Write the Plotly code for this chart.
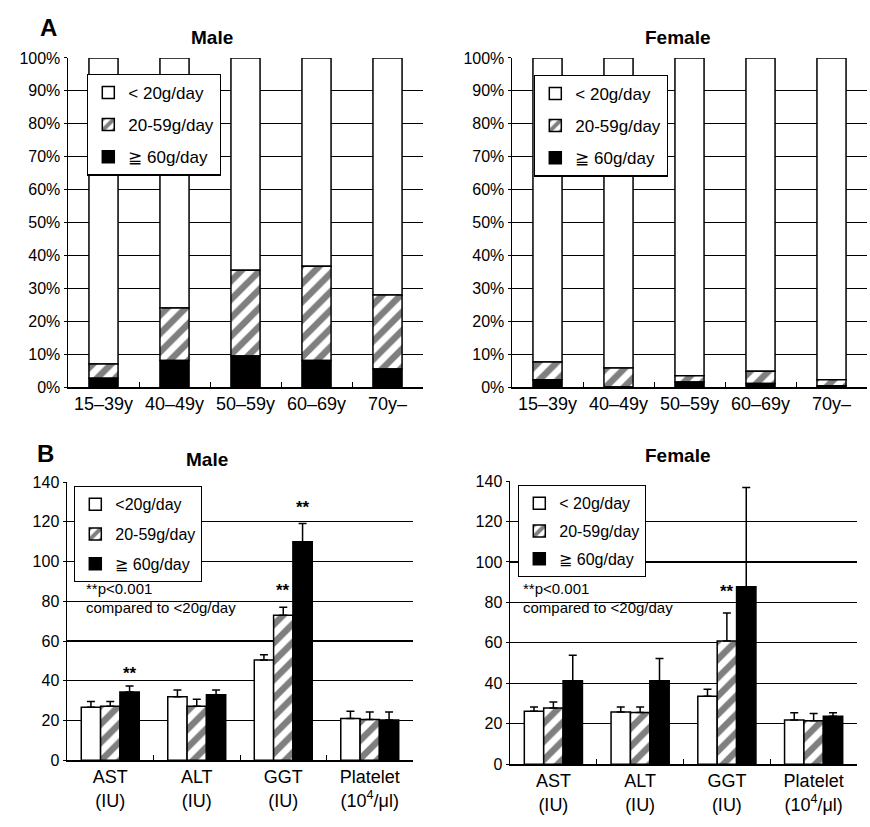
import plotly.graph_objects as go

# ---------------- Data ----------------
age_groups = ["15–39y", "40–49y", "50–59y", "60–69y", "70y–"]
male_ge60 = [2.7, 8.1, 9.4, 8.1, 5.5]
male_20_59 = [4.3, 15.9, 26.1, 28.6, 22.5]
female_ge60 = [2.2, 0.0, 1.5, 1.1, 0.4]
female_20_59 = [5.4, 5.8, 1.9, 3.7, 1.8]

tests = ["AST<br>(IU)", "ALT<br>(IU)", "GGT<br>(IU)", "Platelet<br>(10<sup>4</sup>/μl)"]
male_lt20 = [26.6, 31.9, 50.4, 21.0]
male_lt20_err = [3.0, 3.4, 2.7, 3.6]
male_mid = [27.1, 27.1, 73.0, 20.5]
male_mid_err = [2.5, 3.6, 4.0, 3.8]
male_hi = [34.3, 32.9, 110.0, 20.2]
male_hi_err = [3.0, 2.4, 9.1, 4.1]

female_lt20 = [26.2, 25.8, 33.6, 21.8]
female_lt20_err = [2.1, 2.5, 3.4, 3.6]
female_mid = [27.8, 25.5, 60.9, 21.5]
female_mid_err = [2.9, 2.8, 13.9, 3.5]
female_hi = [41.2, 41.2, 87.7, 23.7]
female_hi_err = [12.6, 11.0, 49.1, 1.7]

# significance stars: (panel, test index, group index, y)
stars = [("male", 0, 2, 43.5), ("male", 2, 1, 85.4), ("male", 2, 2, 127.0),
         ("female", 2, 1, 85.6)]

FONT = "Arial, Liberation Sans, sans-serif"
W, H = 870, 827

fig = go.Figure()

LINE = dict(color="black", width=1.5)
HATCH = dict(shape="/", fgcolor="black", bgcolor="white", size=13, solidity=0.5)

# ---------------- Panel A ----------------
def add_stacked(xa, ya, leg, hi, mid, lt_name):
    total = [a + b for a, b in zip(hi, mid)]
    rest = [100 - t for t in total]
    common = dict(x=age_groups, xaxis=xa, yaxis=ya, width=0.41, offset=-0.205,
                  legend=leg, hoverinfo="skip")
    fig.add_trace(go.Bar(y=rest, base=total, name=lt_name,
                         marker=dict(color="white", line=LINE),
                         legendgroup=leg + "a", **common))
    fig.add_trace(go.Bar(y=mid, base=hi, name="20-59g/day",
                         marker=dict(color="white", line=LINE, pattern=HATCH),
                         legendgroup=leg + "b", **common))
    fig.add_trace(go.Bar(y=hi, base=[0] * len(hi), name="≧ 60g/day",
                         marker=dict(color="black", line=LINE),
                         legendgroup=leg + "c", **common))

add_stacked("x", "y", "legend", male_ge60, male_20_59, "< 20g/day")
add_stacked("x2", "y2", "legend2", female_ge60, female_20_59, "< 20g/day")

# ---------------- Panel B ----------------
def add_group(xa, ya, leg, lt, lte, md, mde, hi, hie, lt_name):
    specs = [(lt, lte, lt_name, dict(color="white", line=LINE)),
             (md, mde, "20-59g/day", dict(color="white", line=LINE, pattern=HATCH)),
             (hi, hie, "≧ 60g/day", dict(color="black", line=LINE))]
    for k, (v, e, nm, mk) in enumerate(specs):
        fig.add_trace(go.Bar(
            x=tests, y=v, name=nm, xaxis=xa, yaxis=ya, legend=leg,
            legendgroup=leg + str(k), marker=mk, hoverinfo="skip",
            error_y=dict(type="data", symmetric=False, array=e,
                         arrayminus=[0] * len(e), color="black",
                         thickness=1.5, width=4)))

add_group("x3", "y3", "legend3", male_lt20, male_lt20_err, male_mid, male_mid_err,
          male_hi, male_hi_err, "<20g/day")
add_group("x4", "y4", "legend4", female_lt20, female_lt20_err, female_mid,
          female_mid_err, female_hi, female_hi_err, "< 20g/day")

# ---------------- Axes ----------------
def px(x):
    return min(1.0, max(0.0, x / W))

def py(y):
    return min(1.0, max(0.0, 1 - y / H))

def tf(size):
    return dict(family=FONT, size=size, color="black")

xcommon = dict(showline=True, linecolor="black", linewidth=1.5,
               tickson="boundaries", ticks="inside", ticklen=5, tickcolor="black",
               showgrid=False)
ycommon = dict(showline=True, linecolor="black", linewidth=1.5,
               showgrid=True, gridcolor="black", gridwidth=1.2, zeroline=False,
               ticks="outside", ticklen=3, tickcolor="black", tickfont=tf(16))

fig.update_layout(
    xaxis=dict(domain=[px(68), px(423)], anchor="y", range=[-0.5, 4.5],
               tickfont=tf(18), **xcommon),
    yaxis=dict(domain=[py(387), py(51)], anchor="x", range=[0, 100], dtick=10,
               ticksuffix="%", **ycommon),
    xaxis2=dict(domain=[px(512), px(867)], anchor="y2", range=[-0.5, 4.5],
                tickfont=tf(18), **xcommon),
    yaxis2=dict(domain=[py(387), py(51)], anchor="x2", range=[0, 100], dtick=10,
                ticksuffix="%", **ycommon),
    xaxis3=dict(domain=[px(67), px(413)], anchor="y3", range=[-0.5, 3.5],
                tickfont=tf(18), **xcommon),
    yaxis3=dict(domain=[py(768), py(484)], anchor="x3", range=[0, 140], dtick=20,
                **ycommon),
    xaxis4=dict(domain=[px(510), px(857)], anchor="y4", range=[-0.5, 3.5],
                tickfont=tf(18), **xcommon),
    yaxis4=dict(domain=[py(772), py(483)], anchor="x4", range=[0, 140], dtick=20,
                **ycommon),
)

# ---------------- Legends ----------------
def legend_at(left, top, size, gap):
    return dict(x=px(left), y=py(top), xanchor="left", yanchor="top",
                xref="paper", yref="paper", bgcolor="white",
                bordercolor="black", borderwidth=1.3, traceorder="grouped",
                tracegroupgap=gap, itemclick=False, itemwidth=30,
                font=dict(family=FONT, size=size, color="black"))

fig.update_layout(
    legend=legend_at(87, 67, 17, 7),
    legend2=legend_at(534, 68, 17, 7),
    legend3=legend_at(74, 488, 16, 6),
    legend4=legend_at(518, 487, 16, 4),
)

# ---------------- Text ----------------
ann = []
def text(x, y, s, size, bold=False, xanchor="center"):
    ann.append(dict(x=px(x), y=py(y), xref="paper", yref="paper", text=s,
                    showarrow=False, xanchor=xanchor, yanchor="middle",
                    font=dict(family=FONT, size=size, color="black",
                              weight="bold" if bold else "normal")))

text(48, 20, "A", 24, True)
text(45, 455, "B", 24, True)
text(212, 30, "Male", 19, True)
text(677, 30, "Female", 19, True)
text(207, 461, "Male", 19, True)
text(677, 457, "Female", 19, True)

text(84, 593, "**p<0.001", 15, xanchor="left")
text(84, 612, "compared to <20g/day", 15, xanchor="left")
text(521, 593, "**p<0.001", 15, xanchor="left")
text(521, 612, "compared to <20g/day", 15, xanchor="left")

group_off = [-0.2233, 0.0, 0.2233]
for panel, ti, gi, yv in stars:
    xa, ya = ("x3", "y3") if panel == "male" else ("x4", "y4")
    ann.append(dict(x=ti + group_off[gi], y=yv, xref=xa, yref=ya, text="**",
                    showarrow=False, yanchor="middle",
                    font=dict(family=FONT, size=17, color="black", weight="bold")))

fig.update_layout(
    annotations=ann,
    width=W, height=H, autosize=False,
    margin=dict(l=0, r=0, t=0, b=0),
    paper_bgcolor="white", plot_bgcolor="white",
    barmode="group", bargap=0.33, bargroupgap=0,
    font=dict(family=FONT, color="black"),
)

# remove the default page margin so the figure sits at the window's origin
page_fix = ("document.body.style.margin='0';"
            "document.body.style.padding='0';"
            "document.documentElement.style.overflow='hidden';")

fig.write_html("out.html", post_script=page_fix,
               config={"displayModeBar": False, "staticPlot": True})
